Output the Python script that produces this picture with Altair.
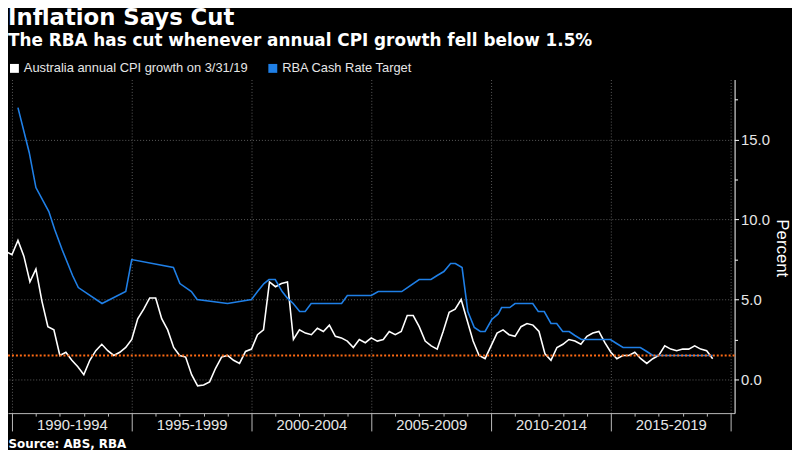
import altair as alt
import pandas as pd

# ---------------- data ----------------
cpi_label = "Australia annual CPI growth on 3/31/19"
rba_label = "RBA Cash Rate Target"

# quarterly year-ended CPI growth, first value = quarter ending June 1989
cpi_first_quarter_end = 1989.5
cpi_values = [
    7.5, 8.0,                      # 1989 Q2-Q3
    7.8, 8.7, 7.7, 6.1,            # 1989 Q4 - 1990 Q3
    6.9, 4.9, 3.3, 3.1,
    1.5, 1.7, 1.2, 0.8,
    0.3, 1.2, 1.8, 2.2,
    1.8, 1.5, 1.7, 2.0,
    2.5, 3.8, 4.4, 5.1,
    5.1, 3.8, 3.1, 2.0,
    1.5, 1.4, 0.3, -0.4,
    -0.35, -0.15, 0.7, 1.4,
    1.5, 1.2, 1.0, 1.75,
    1.9, 2.8, 3.1, 6.1,
    5.8, 6.0, 6.1, 2.5,
    3.1, 2.9, 2.8, 3.2,
    3.0, 3.4, 2.7, 2.6,
    2.4, 2.0, 2.5, 2.3,
    2.6, 2.4, 2.5, 3.0,
    2.8, 3.0, 4.0, 4.0,
    3.3, 2.4, 2.1, 1.9,
    3.0, 4.2, 4.4, 5.0,
    3.7, 2.4, 1.5, 1.3,
    2.1, 2.9, 3.1, 2.8,
    2.7, 3.3, 3.5, 3.4,
    3.0, 1.6, 1.2, 2.0,
    2.2, 2.5, 2.4, 2.2,
    2.7, 2.9, 3.0, 2.3,
    1.7, 1.3, 1.5, 1.5,
    1.7, 1.3, 1.0, 1.3,
    1.5, 2.1, 1.9, 1.8,
    1.9, 1.9, 2.1, 1.9,
    1.8, 1.3,
]

# RBA cash rate target, vertices (decimal years)
rba_years = [
    1990.25, 1990.72, 1991.0, 1991.54, 1991.78, 1992.1, 1992.53, 1992.77,
    1993.76, 1994.75, 1995.0, 1996.74, 1997.01, 1997.49, 1997.73, 1999.0,
    2000.0, 2000.25, 2000.52, 2000.73, 2000.99, 2001.28, 2001.49, 2001.74,
    2002.01, 2002.24, 2002.49, 2003.76, 2004.0, 2005.0, 2005.29, 2006.27,
    2006.51, 2007.0, 2007.49, 2007.75, 2008.03, 2008.31, 2008.51, 2008.79,
    2009.03, 2009.3, 2009.55, 2009.75, 2010.03, 2010.3, 2010.44, 2010.78,
    2011.0, 2011.74, 2011.97, 2012.22, 2012.5, 2012.74, 2012.99, 2013.26,
    2013.5, 2013.77, 2014.98, 2015.24, 2015.51, 2016.23, 2016.5, 2016.75,
    2019.25,
]
rba_values = [
    17.0, 14.2, 12.0, 10.5, 9.4, 8.1, 6.5, 5.75,
    4.75, 5.5, 7.5, 7.0, 6.0, 5.5, 5.0, 4.75,
    5.0, 5.5, 6.0, 6.25, 6.25, 5.5, 5.1, 4.75,
    4.25, 4.25, 4.75, 4.75, 5.25, 5.25, 5.5, 5.5,
    5.75, 6.25, 6.25, 6.5, 6.75, 7.25, 7.25, 7.0,
    4.25, 3.25, 3.0, 3.0, 3.75, 4.1, 4.5, 4.5,
    4.75, 4.75, 4.25, 4.25, 3.5, 3.5, 3.0, 3.0,
    2.75, 2.5, 2.5, 2.25, 2.0, 2.0, 1.75, 1.5,
    1.5,
]

threshold_values = [1.5]

period_starts = [1990, 1995, 2000, 2005, 2010, 2015]
period_labels = ["1990-1994", "1995-1999", "2000-2004", "2005-2009", "2010-2014", "2015-2019"]
x_tick_years = list(range(1990, 2021))
y_tick_values = [0, 2.5, 5, 7.5, 10, 12.5, 15, 17.5]

# ---------------- frames ----------------
cpi_years = [cpi_first_quarter_end + 0.25 * i for i in range(len(cpi_values))]
lines_df = pd.concat([
    pd.DataFrame({"year": cpi_years, "value": cpi_values, "series": cpi_label}),
    pd.DataFrame({"year": rba_years, "value": rba_values, "series": rba_label}),
], ignore_index=True)
thr_df = pd.DataFrame({"value": threshold_values})

W, H = 734, 337
x_domain = [1989.8347, 2020.1653]
y_domain = [-2.105, 18.76]

label_expr = " : ".join(
    f"datum.value == {s} ? '{l}'" for s, l in zip(period_starts, period_labels)
) + " : ''"

major5 = "datum.value % 5 === 0"
GRID = "#5c5c5c"

x_axis = alt.Axis(
    values=x_tick_years,
    tickSize={"condition": {"test": major5, "value": 18}, "value": 3},
    tickColor="#bbbbbb",
    domainColor="#bbbbbb",
    grid=True,
    gridOpacity={"condition": {"test": major5, "value": 1}, "value": 0},
    gridColor=GRID,
    gridDash=[1, 2],
    labelExpr=label_expr,
    labelOffset=60.5,
    labelPadding=-13,
    labelBaseline="top",
    labelFlush=False,
    labelOverlap=False,
    labelFont="Liberation Sans",
    labelFontSize=15,
    labelColor="#e6e6e6",
    title="Source: ABS, RBA",
    titleAnchor="start",
    titleAlign="left",
    titleX=0,
    titleY=35,
    titleBaseline="alphabetic",
    titleFont="DejaVu Sans",
    titleFontSize=12,
    titleFontWeight="bold",
    titleColor="#ffffff",
)

y_axis = alt.Axis(
    orient="right",
    values=y_tick_values,
    tickSize={"condition": {"test": major5, "value": 4}, "value": 3},
    tickColor="#ffffff",
    domainColor="#ffffff",
    grid=True,
    gridOpacity={"condition": {"test": major5, "value": 1}, "value": 0},
    gridColor=GRID,
    gridDash=[1, 2],
    labelExpr=f"{major5} ? format(datum.value, '.1f') : ''",
    labelPadding=2,
    labelFont="Liberation Sans",
    labelFontSize=15,
    labelColor="#e6e6e6",
    labelFlush=False,
    labelOverlap=False,
    title="Percent",
    titleFont="Liberation Sans",
    titleFontSize=17,
    titleFontWeight="normal",
    titleColor="#ffffff",
    titleAngle=90,
    titleBaseline="middle",
    titleAlign="center",
    titleX=47,
    titleY=170,
)

x_enc = alt.X("year:Q", scale=alt.Scale(domain=x_domain, nice=False, zero=False), axis=x_axis)
y_enc = alt.Y("value:Q", scale=alt.Scale(domain=y_domain, nice=False, zero=False), axis=y_axis)

lines = alt.Chart(lines_df).mark_line(strokeWidth=1.6, clip=True).encode(
    x=x_enc,
    y=y_enc,
    detail="series:N",
    color=alt.Color(
        "series:N",
        scale=alt.Scale(domain=[cpi_label, rba_label], range=["#ffffff", "#1f7fe6"]),
        legend=alt.Legend(
            orient="none",
            legendX=0,
            legendY=-18,
            direction="horizontal",
            title=None,
            symbolType="square",
            symbolSize=16,
            symbolStrokeWidth=5,
            labelFont="Liberation Sans",
            labelFontSize=13,
            labelColor="#e6e6e6",
            labelOffset=3,
            labelLimit=400,
            columnPadding=12,
        ),
    ),
    order="year:Q",
)

rule = alt.Chart(thr_df).mark_rule(color="#ff6a13", strokeDash=[2, 2], strokeWidth=2).encode(
    y=alt.Y("value:Q")
)

chart = alt.layer(lines, rule).properties(
    width=W,
    height=H,
    padding={"left": 0, "top": 70, "right": 58, "bottom": 35},
    autosize=alt.AutoSizeParams(type="none"),
    background="#000000",
    title=alt.TitleParams(
        text="Inflation Says Cut",
        subtitle="The RBA has cut whenever annual CPI growth fell below 1.5%",
        anchor="start",
        frame="group",
        font="DejaVu Sans",
        fontSize=23,
        fontWeight="bold",
        color="#ffffff",
        subtitleFont="DejaVu Sans",
        subtitleFontSize=17,
        subtitleFontWeight="bold",
        subtitleColor="#ffffff",
        subtitlePadding=3,
        offset=13,
    ),
).configure_view(stroke=None)

chart.save("out.html", embed_options={"renderer": "svg", "actions": False})
